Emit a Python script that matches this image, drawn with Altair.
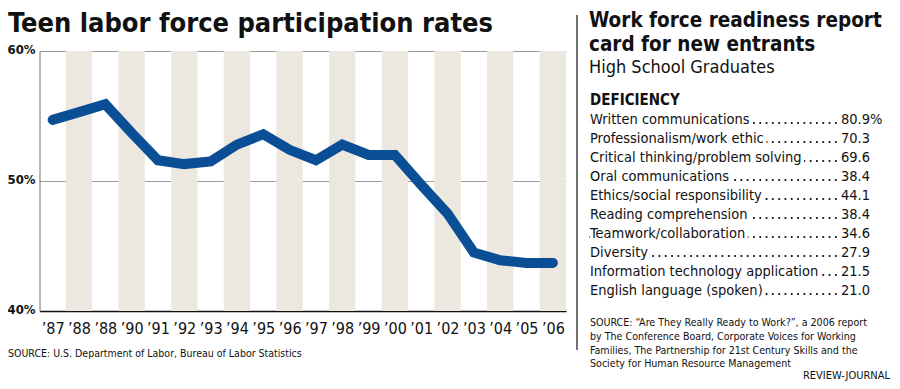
import json
import altair as alt
import pandas as pd

# ---------------- data ----------------
years = list(range(1987, 2007))
tick_labels = ["’87", "’88", "’88", "’90", "’91", "’92", "’93", "’94", "’95", "’96",
               "’97", "’98", "’99", "’00", "’01", "’02", "’03", "’04", "’05", "’06"]
rates = [54.7, 55.3, 55.9, 53.7, 51.6, 51.3, 51.5, 52.8, 53.6, 52.4,
         51.6, 52.8, 52.0, 52.0, 49.7, 47.5, 44.5, 43.9, 43.7, 43.7]
y_ticks = [40, 50, 60]

items = ["Written communications", "Professionalism/work ethic",
         "Critical thinking/problem solving", "Oral communications",
         "Ethics/social responsibility", "Reading comprehension",
         "Teamwork/collaboration", "Diversity",
         "Information technology application", "English language (spoken)"]
shares = [80.9, 70.3, 69.6, 38.4, 44.1, 38.4, 34.6, 27.9, 21.5, 21.0]

left_title = "Teen labor force participation rates"
left_source = "SOURCE: U.S. Department of Labor, Bureau of Labor Statistics"
right_title = ["Work force readiness report", "card for new entrants"]
right_subtitle = "High School Graduates"
table_header = "DEFICIENCY"
right_source = ["SOURCE: “Are They Really Ready to Work?”, a 2006 report",
                "by The Conference Board, Corporate Voices for Working",
                "Families, The Partnership for 21st Century Skills and the",
                "Society for Human Resource Management"]
credit = "REVIEW-JOURNAL"

# ---------------- layout / style ----------------
PAD_L, PAD_T = 31.5, 43          # plot origin inside the svg
W, H = 526.5, 260
OX, OY = PAD_L + 8, PAD_T + 8    # plot origin on the page


def px(sx):
    return sx - OX


def py(sy):
    return sy - OY


FONT = "Liberation Sans Narrow, DejaVu Sans Condensed, Roboto Condensed, sans-serif"
BLUE = "#0a4f96"
BAND = "#ece8e0"
INK = "#111111"

df = pd.DataFrame({"year": years, "rate": rates, "idx": list(range(len(years)))})
tbl = pd.DataFrame({
    "row": list(range(len(items))),
    "item": items,
    "val": [f"{v:.1f}" + ("%" if i == 0 else "") for i, v in enumerate(shares)],
})

label_expr = "[" + ",".join(json.dumps(t, ensure_ascii=False) for t in tick_labels) + "][round(datum.value - %d)]" % years[0]

xscale = alt.Scale(domain=[years[0] - 0.5, years[-1] + 0.5], nice=False, zero=False)
yscale = alt.Scale(domain=[y_ticks[0], y_ticks[-1]], nice=False, zero=False)

xaxis = alt.Axis(values=years, labelExpr=label_expr, title=None, ticks=False, grid=False,
                 domainColor=INK, domainWidth=1.5, labelFont=FONT, labelFontSize=16,
                 labelColor=INK, labelPadding=9, labelAngle=0, labelFlush=False,
                 labelOverlap=False)
yaxis = alt.Axis(values=y_ticks, labelExpr="datum.value + '%'", title=None, ticks=False,
                 grid=True, gridColor="#9c9c9c", gridWidth=1, domainColor="#707070",
                 domainWidth=1, labelFont=FONT, labelFontSize=13, labelFontWeight="bold",
                 labelPadding=4.5, labelColor=INK, labelOffset=-2, labelFlush=False)

bands = alt.Chart(df).transform_filter("datum.idx % 2 == 1").transform_calculate(
    x0="datum.year - 0.5", x1="datum.year + 0.5"
).mark_rect(color=BAND).encode(
    x=alt.X("x0:Q", scale=xscale, axis=xaxis),
    x2="x1:Q",
    y=alt.YDatum(y_ticks[-1], scale=yscale, axis=yaxis, type="quantitative"),
    y2=alt.Y2Datum(y_ticks[0]),
)

line = alt.Chart(df).mark_line(color=BLUE, strokeWidth=10, strokeCap="round",
                               strokeJoin="miter").encode(
    x=alt.X("year:Q", scale=xscale, axis=xaxis),
    y=alt.Y("rate:Q", scale=yscale, axis=yaxis),
)

left = alt.layer(bands, line)

# ---------------- right-hand table ----------------
TX = px(590)       # left edge of right column
VX = px(841)       # value column
DOT_END = px(836)
TFS = 14.5
rowscale = alt.Scale(domain=[0, len(items) - 1], range=[py(123), py(294)], nice=False, zero=False)
ry = alt.Y("row:Q", scale=rowscale, axis=None)

dots = alt.Chart(tbl).mark_rule(color=INK, strokeWidth=1.8, strokeDash=[0.3, 6.0],
                                strokeCap="round").encode(
    x=alt.value(TX), x2=alt.value(DOT_END), y=ry)
halo = alt.Chart(tbl).mark_text(font=FONT, fontSize=TFS, align="left", baseline="alphabetic",
                                dy=1.2, fill="white", stroke="white", strokeWidth=7).encode(
    x=alt.value(TX), y=ry, text="item:N")
labels = alt.Chart(tbl).mark_text(font=FONT, fontSize=TFS, align="left", baseline="alphabetic",
                                  dy=1.2, color=INK).encode(
    x=alt.value(TX), y=ry, text="item:N")
vals = alt.Chart(tbl).mark_text(font=FONT, fontSize=TFS, align="left", baseline="alphabetic",
                                dy=1.2, color=INK).encode(
    x=alt.value(VX), y=ry, text="val:N")


def txt(s, x, y, size, weight="normal", align="left", line_h=None):
    kw = dict(font=FONT, fontSize=size, fontWeight=weight, align=align,
              baseline="alphabetic", color=INK)
    if line_h:
        kw["lineHeight"] = line_h
    return alt.Chart(pd.DataFrame({"t": [0]})).mark_text(text=s, **kw).encode(
        x=alt.value(x), y=alt.value(y))


divider = alt.Chart(pd.DataFrame({"t": [0]})).mark_rule(color="#444444", strokeWidth=1.5).encode(
    x=alt.value(px(577)), y=alt.value(py(15)), y2=alt.value(py(350)))

texts = [
    txt(left_title, px(8), py(32), 27, "bold"),
    txt(left_source, px(8), py(357), 10.5),
    txt(right_title[0], px(589), py(27), 20.5, "bold"),
    txt(right_title[1], px(589), py(50.5), 20.5, "bold"),
    txt(right_subtitle, px(589), py(73), 18),
    txt(table_header, TX, py(105), 15, "bold"),
    txt(right_source, TX, py(326), 10.6, line_h=13.8),
    txt(credit, px(890), py(379), 11, align="right"),
]

right = alt.layer(dots, halo, labels, vals, divider, *texts)

chart = alt.layer(left, right).resolve_scale(y="independent", x="independent").properties(
    width=W, height=H,
    autosize=alt.AutoSizeParams(type="none"),
    padding={"left": PAD_L, "top": PAD_T, "right": 884 - PAD_L - W, "bottom": 373 - PAD_T - H},
    background="white",
).configure_view(stroke=None)

chart.save("out.html", embed_options={"renderer": "svg", "actions": False})
